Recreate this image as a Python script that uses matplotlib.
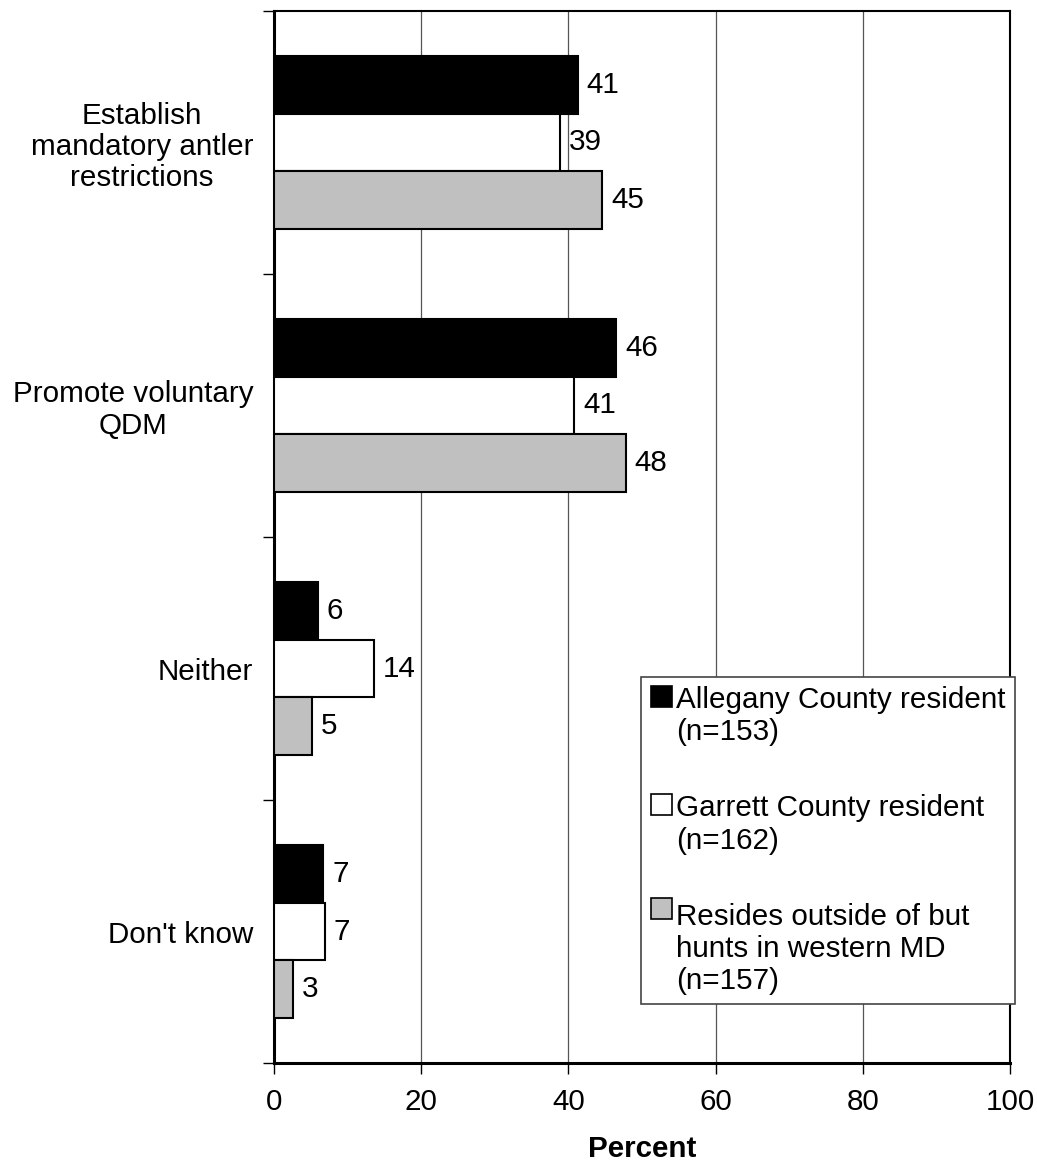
import matplotlib.pyplot as plt
import numpy as np
from matplotlib.patches import Patch
from matplotlib.legend_handler import HandlerPatch
from matplotlib.patches import Rectangle

plt.rcParams['font.family'] = ['Liberation Sans', 'DejaVu Sans']

categories = ['Establish\nmandatory antler\nrestrictions', 'Promote voluntary\nQDM', 'Neither', "Don't know"]
allegany = [41.3, 46.5, 6.0, 6.7]
garrett = [38.9, 40.8, 13.6, 6.9]
outside = [44.6, 47.8, 5.2, 2.6]
series_labels = ['Allegany County resident\n(n=153)',
                 'Garrett County resident\n(n=162)',
                 'Resides outside of but\nhunts in western MD\n(n=157)']
colors = ['#000000', '#ffffff', '#c0c0c0']
xticks = [0, 20, 40, 60, 80, 100]

fs = 21.3
lsp = 1.2


class TopHandler(HandlerPatch):
    # put the legend square next to the first text line
    def __init__(self, nlines, **kw):
        self.nlines = nlines
        super().__init__(**kw)

    def create_artists(self, legend, orig_handle, xdescent, ydescent, width, height, fontsize, trans):
        shift = (self.nlines - 1) * fontsize * lsp * 1.15 / 2
        side = fontsize * 0.72
        p = Rectangle((-xdescent + width - side, -ydescent + (height - side) / 2 + shift), side, side,
                      facecolor=orig_handle.get_facecolor(), edgecolor='black', lw=1.2, transform=trans)
        return [p]


fig = plt.figure(figsize=(10.37, 11.67), dpi=100)
ax = fig.add_axes([0.2642, 0.0891, 0.7098, 0.9015])

n = len(categories)
y = np.arange(n)
h = 0.22
series = [allegany, garrett, outside]
handles = []
for i, (vals, c) in enumerate(zip(series, colors)):
    pos = y + (i - 1) * h
    ax.barh(pos, vals, height=h, color=c, edgecolor='black', linewidth=1.5, zorder=3)
    for p, v in zip(pos, vals):
        ax.text(v + 1.2, p, str(int(round(v))), va='center', ha='left', fontsize=fs, zorder=4)
    handles.append(Patch(facecolor=c, edgecolor='black'))

ax.set_ylim(n - 0.5, -0.5)
ax.set_xlim(0, 100)
ax.set_xticks(xticks)
ax.set_xticklabels([str(t) for t in xticks], fontsize=fs)
ax.set_yticks(np.arange(n + 1) - 0.5)
ax.set_yticklabels([])
ax.set_yticks(y, minor=True)
ax.set_yticklabels(categories, minor=True, fontsize=fs, ha='right', multialignment='center',
                   linespacing=1.15)
ax.tick_params(axis='y', which='minor', length=0, pad=15)
ax.tick_params(axis='y', which='major', length=8, width=1, direction='out')
ax.tick_params(axis='x', length=8, width=1, direction='out', pad=10)
ax.grid(axis='x', color='#555555', linewidth=0.9, zorder=0)
for s in ['left', 'bottom']:
    ax.spines[s].set_linewidth(2.2)
for s in ['top', 'right']:
    ax.spines[s].set_linewidth(1.5)

ax.set_xlabel('Percent', fontsize=fs, fontweight='bold', labelpad=14)

hmap = {handles[i]: TopHandler(lab.count('\n') + 1) for i, lab in enumerate(series_labels)}
leg = fig.legend(handles, series_labels, loc='upper left', bbox_to_anchor=(641 / 1037, 1 - 677 / 1167),
                 fontsize=fs, frameon=True, fancybox=False, edgecolor='#444444', framealpha=1,
                 handlelength=0.75, handleheight=0.75, handletextpad=0.15, labelspacing=1.62,
                 borderpad=0.3, borderaxespad=0, handler_map=hmap)
leg.get_frame().set_linewidth(1.2)
for t in leg.get_texts():
    t.set_linespacing(lsp)

fig.savefig('out.png', dpi=100)
